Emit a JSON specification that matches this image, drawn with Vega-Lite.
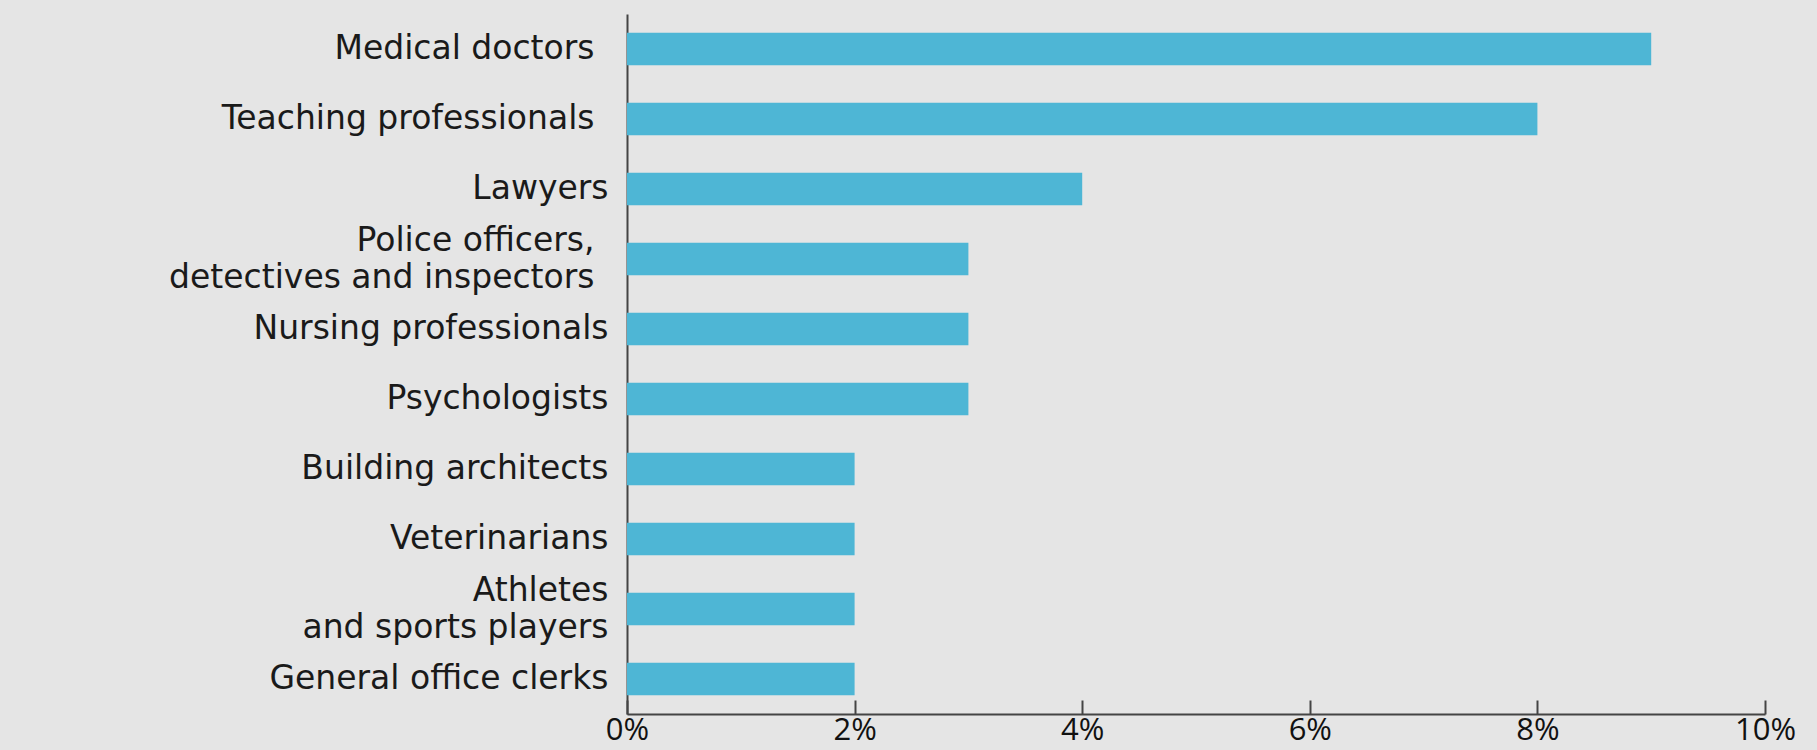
{
  "$schema": "https://vega.github.io/schema/vega-lite/v6.json",
  "autosize": {"type": "none"},
  "width": 1138,
  "height": 700,
  "padding": {"left": 627, "top": 14, "right": 52, "bottom": 36},
  "background": "#e5e5e5",
  "data": {
    "values": [
      {"occupation": "Medical doctors", "share": 0.09},
      {"occupation": "Teaching professionals", "share": 0.08},
      {"occupation": "Lawyers", "share": 0.04},
      {"occupation": "Police officers,|detectives and inspectors", "share": 0.03},
      {"occupation": "Nursing professionals", "share": 0.03},
      {"occupation": "Psychologists", "share": 0.03},
      {"occupation": "Building architects", "share": 0.02},
      {"occupation": "Veterinarians", "share": 0.02},
      {"occupation": "Athletes|and sports players", "share": 0.02},
      {"occupation": "General office clerks", "share": 0.02}
    ]
  },
  "mark": {"type": "bar", "color": "#4eb6d5"},
  "encoding": {
    "y": {
      "field": "occupation",
      "type": "nominal",
      "sort": null,
      "scale": {"paddingInner": 0.536, "paddingOuter": 0.268},
      "axis": {
        "title": null,
        "ticks": false,
        "domain": true,
        "domainColor": "#444444",
        "domainWidth": 2,
        "labelPadding": {"condition": {"test": "datum.value == 'Medical doctors' || datum.value == 'Teaching professionals' || indexof(datum.value, 'Police') >= 0", "value": 33}, "value": 19},
        "labelFont": "DejaVu Sans",
        "labelFontSize": 33,
        "labelColor": "#1a1a1a",
        "labelLineHeight": 37,
        "labelLimit": 700,
        "labelOffset": {"condition": {"test": "indexof(datum.value, '|') >= 0", "value": -18}, "value": 0},
        "labelExpr": "split(datum.label, '|')"
      }
    },
    "x": {
      "field": "share",
      "type": "quantitative",
      "scale": {"domain": [0, 0.1], "nice": false},
      "axis": {
        "title": null,
        "values": [0, 0.02, 0.04, 0.06, 0.08, 0.1],
        "format": ".0%",
        "grid": false,
        "domainColor": "#444444",
        "domainWidth": 2,
        "tickColor": "#444444",
        "tickWidth": 2,
        "tickSize": -14,
        "labelPadding": 15,
        "labelFont": "Open Sans",
        "labelFontSize": 31,
        "labelColor": "#111111",
        "labelFlush": false,
        "labelOverlap": false
      }
    }
  },
  "config": {"view": {"stroke": null}}
}
